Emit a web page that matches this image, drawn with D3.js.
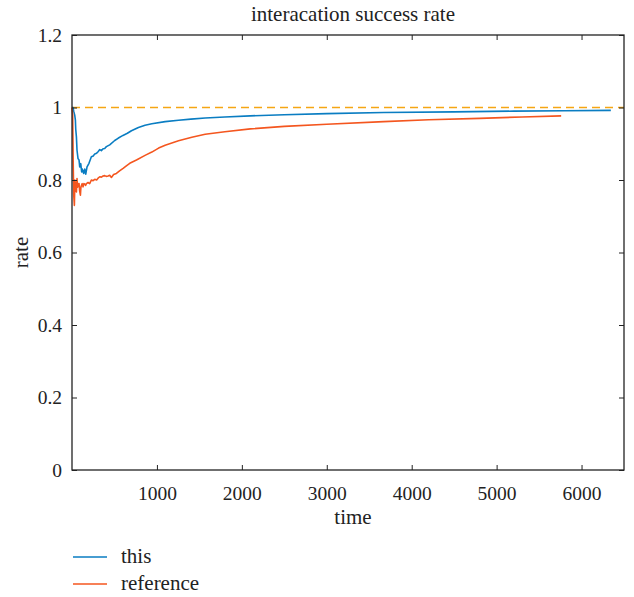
<!DOCTYPE html>
<html>
<head>
<meta charset="utf-8">
<script src="https://cdn.jsdelivr.net/npm/d3@7"></script>
<style>
  body { margin: 0; background: #fff; }
</style>
</head>
<body>
<svg id="chart"></svg>
<script>
// series: [time, rate]
var thisSeries = [
  [0,1.0],[12,1.0],[20,0.99],[32,0.979],[40,0.965],[44,0.94],[52,0.919],[59,0.882],
  [71,0.859],[83,0.855],[91,0.836],[103,0.845],[114,0.822],[122,0.83],[138,0.818],
  [150,0.83],[162,0.816],[177,0.836],[200,0.846],[228,0.864],[250,0.866],[268,0.872],
  [290,0.874],[307,0.878],[327,0.884],[346,0.881],[366,0.886],[385,0.887],[405,0.892],
  [444,0.897],[503,0.909],[542,0.915],[600,0.923],[652,0.929],[700,0.936],[782,0.945],
  [860,0.951],[940,0.955],[1097,0.961],[1254,0.965],[1400,0.968],[1568,0.971],
  [1800,0.974],[2100,0.977],[2500,0.980],[3000,0.983],[3670,0.986],[4500,0.988],
  [5200,0.990],[5800,0.991],[6345,0.992]
];
var referenceSeries = [
  [0,1.0],[8,0.98],[14,0.85],[20,0.76],[28,0.73],[34,0.80],[40,0.79],[46,0.77],[52,0.767],
  [59,0.804],[65,0.78],[71,0.785],[77,0.79],[83,0.79],[90,0.77],[99,0.758],[105,0.78],
  [111,0.785],[120,0.79],[130,0.781],[140,0.79],[150,0.789],[160,0.785],[170,0.79],
  [189,0.793],[208,0.79],[228,0.80],[248,0.798],[268,0.802],[290,0.80],[307,0.805],
  [327,0.809],[346,0.808],[366,0.811],[385,0.812],[405,0.81],[425,0.811],[444,0.813],
  [464,0.807],[490,0.815],[523,0.818],[560,0.825],[602,0.832],[640,0.839],[680,0.846],
  [759,0.855],[860,0.868],[940,0.877],[1020,0.888],[1097,0.896],[1254,0.908],
  [1411,0.918],[1568,0.926],[1800,0.933],[2100,0.941],[2500,0.948],[3000,0.954],
  [3670,0.961],[4200,0.966],[4800,0.970],[5300,0.974],[5760,0.977]
];
var targetRate = 1.0;
var xTicks = [1000, 2000, 3000, 4000, 5000, 6000];
var yTicks = [0, 0.2, 0.4, 0.6, 0.8, 1, 1.2];
var seriesNames = ["this", "reference"];
var seriesColors = ["#0a7dc2", "#f4561f"];

var FONT = "Liberation Serif";
var W = 634, H = 597;
var margin = {top: 35, right: 10, bottom: 127, left: 72},
    width = W - margin.left - margin.right,
    height = H - margin.top - margin.bottom;

var svg = d3.select("#chart").attr("width", W).attr("height", H)
  .attr("font-family", FONT);
var g = svg.append("g").attr("transform", "translate(" + margin.left + "," + margin.top + ")");

var x = d3.scaleLinear().domain([0, 6500]).range([0, width]);
var y = d3.scaleLinear().domain([0, 1.2]).range([height, 0]);

// target line
g.append("line")
  .attr("x1", 0).attr("x2", width)
  .attr("y1", y(targetRate)).attr("y2", y(targetRate))
  .attr("stroke", "#f5a614").attr("stroke-width", 1.3)
  .attr("stroke-dasharray", "8,5");

var line = d3.line()
  .x(function(d) { return x(d[0]); })
  .y(function(d) { return y(d[1]); });

[thisSeries, referenceSeries].forEach(function(s, i) {
  g.append("path")
    .datum(s)
    .attr("fill", "none")
    .attr("stroke", seriesColors[i])
    .attr("stroke-width", 1.6)
    .attr("stroke-linejoin", "round")
    .attr("d", line);
});

// axes, ticks inward on all four sides
function styleAxis(sel) {
  sel.attr("font-family", FONT).attr("font-size", 19.5);
  sel.select(".domain").remove();
  sel.selectAll(".tick line").attr("stroke", "#222");
  sel.selectAll(".tick text").attr("fill", "#222");
}

g.append("g").attr("transform", "translate(0," + height + ")")
  .call(d3.axisBottom(x).tickValues(xTicks).tickSize(-5).tickPadding(16).tickFormat(d3.format("d")))
  .call(styleAxis);
g.append("g")
  .call(d3.axisTop(x).tickValues(xTicks).tickSize(-5).tickFormat(""))
  .call(styleAxis);
g.append("g")
  .call(d3.axisLeft(y).tickValues(yTicks).tickSize(-5).tickPadding(10).tickFormat(function(d) { return String(+d.toFixed(1)); }))
  .call(styleAxis);
g.append("g").attr("transform", "translate(" + width + ",0)")
  .call(d3.axisRight(y).tickValues(yTicks).tickSize(-5).tickFormat(""))
  .call(styleAxis);

g.append("rect")
  .attr("width", width).attr("height", height)
  .attr("fill", "none").attr("stroke", "#222").attr("stroke-width", 1.3);

// labels
function label(sel, size) {
  return sel.attr("font-family", FONT).attr("font-size", size).attr("fill", "#222");
}
label(svg.append("text"), 21)
  .attr("x", 353).attr("y", 21)
  .attr("text-anchor", "middle").text("interacation success rate");
label(svg.append("text"), 21)
  .attr("x", margin.left + width / 2 + 5).attr("y", 524)
  .attr("text-anchor", "middle").text("time");
label(svg.append("text"), 21)
  .attr("transform", "translate(28," + (margin.top + height / 2) + ") rotate(-90)")
  .attr("text-anchor", "middle").text("rate");

// legend
var legend = svg.append("g").attr("transform", "translate(73,557)");
seriesNames.forEach(function(name, i) {
  legend.append("line")
    .attr("x1", 0).attr("x2", 34)
    .attr("y1", i * 27).attr("y2", i * 27)
    .attr("stroke", seriesColors[i]).attr("stroke-width", 1.5);
  label(legend.append("text"), 21)
    .attr("x", 48).attr("y", i * 27 + 6)
    .text(name);
});
</script>
</body>
</html>
